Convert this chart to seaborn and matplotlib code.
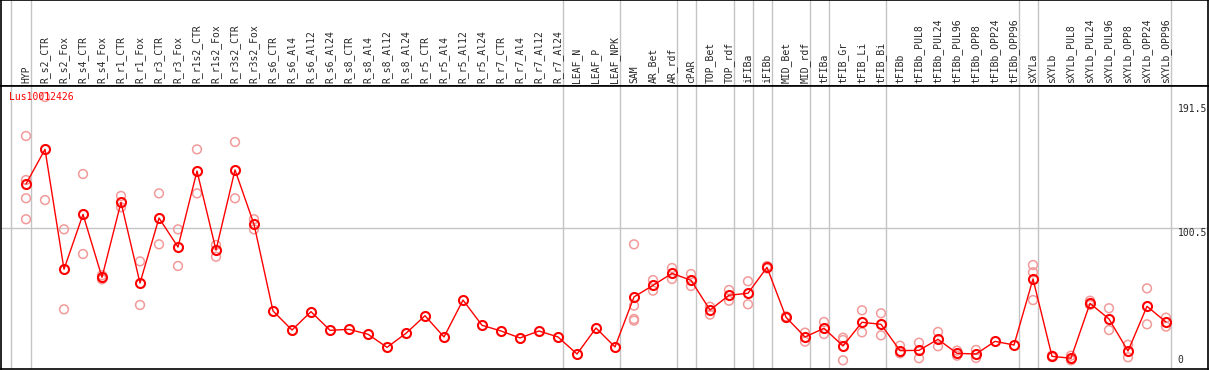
import matplotlib
matplotlib.use('Agg')
import matplotlib.pyplot as plt
import pandas as pd
import seaborn as sns

gene = 'Lus10012426'

samples = ['HYP', 'R_s2_CTR', 'R_s2_Fox', 'R_s4_CTR', 'R_s4_Fox', 'R_r1_CTR', 'R_r1_Fox',
           'R_r3_CTR', 'R_r3_Fox', 'R_r1s2_CTR', 'R_r1s2_Fox', 'R_r3s2_CTR', 'R_r3s2_Fox',
           'R_s6_CTR', 'R_s6_Al4', 'R_s6_Al12', 'R_s6_Al24', 'R_s8_CTR', 'R_s8_Al4',
           'R_s8_Al12', 'R_s8_Al24', 'R_r5_CTR', 'R_r5_Al4', 'R_r5_Al12', 'R_r5_Al24',
           'R_r7_CTR', 'R_r7_Al4', 'R_r7_Al12', 'R_r7_Al24', 'LEAF_N', 'LEAF_P', 'LEAF_NPK',
           'SAM', 'AR_Bet', 'AR_rdf', 'cPAR', 'TOP_Bet', 'TOP_rdf', 'iFIBa', 'iFIBb',
           'MID_Bet', 'MID_rdf', 'tFIBa', 'tFIB_Gr', 'tFIB_Li', 'tFIB_Bi', 'tFIBb',
           'tFIBb_PUL8', 'tFIBb_PUL24', 'tFIBb_PUL96', 'tFIBb_OPP8', 'tFIBb_OPP24',
           'tFIBb_OPP96', 'sXYLa', 'sXYLb', 'sXYLb_PUL8', 'sXYLb_PUL24', 'sXYLb_PUL96',
           'sXYLb_OPP8', 'sXYLb_OPP24', 'sXYLb_OPP96']

means = [133.0, 158.4, 70.4, 110.7, 64.5, 119.5, 60.3, 108.0, 86.7, 142.5, 84.5, 143.3,
         103.4, 39.8, 25.8, 39.3, 25.6, 26.3, 22.7, 13.1, 23.4, 36.3, 20.7, 47.8, 29.3,
         25.1, 20.0, 25.1, 20.7, 8.2, 27.3, 13.4, 50.1, 58.6, 67.4, 62.3, 40.5, 51.3,
         52.8, 71.8, 35.2, 20.7, 27.1, 14.1, 31.5, 30.0, 10.7, 10.9, 19.0, 8.7, 8.2,
         17.5, 14.8, 63.3, 6.5, 5.1, 45.4, 33.9, 10.4, 43.2, 31.7]

replicates = [
    [168.2, 135.9, 122.5, 107.1], [196.8, 121.2], [99.7, 41.0], [140.3, 81.6],
    [63.0, 66.0], [124.2, 115.9], [76.2, 44.2], [126.1, 88.7], [99.7, 72.8],
    [158.4, 126.1], [88.2, 79.6], [163.8, 122.5], [107.1, 99.7],
    [], [], [], [], [], [], [], [], [], [], [], [], [], [], [], [], [], [], [],
    [88.7, 43.7, 33.9, 32.7], [62.5, 54.7], [71.3, 63.3], [66.9, 58.1],
    [42.9, 37.1], [55.2, 47.3], [61.6, 44.7], [72.8, 71.0], [35.8, 34.8],
    [23.9, 17.3], [31.7, 22.9], [20.2, 18.5, 3.6], [40.3, 24.1], [38.1, 21.9],
    [14.3, 8.7], [16.5, 5.1], [24.4, 13.9], [10.7, 7.0], [11.2, 5.3], [], [],
    [73.5, 68.2, 47.8], [6.0, 7.0], [7.0, 3.6], [47.3, 44.2], [41.8, 25.8],
    [15.0, 5.8], [56.4, 30.0], [34.9, 28.3],
]

# a grey separator is drawn after each of these samples
group_ends = ['HYP', 'R_r7_Al24', 'LEAF_NPK', 'AR_rdf', 'cPAR', 'TOP_rdf', 'iFIBa',
              'iFIBb', 'MID_rdf', 'tFIBa', 'tFIB_Bi', 'tFIBb_OPP96', 'sXYLa', 'sXYLb_OPP96']

y_ticks = [191.5, 100.5, 0]
y_tick_labels = ['191.5', '100.5', '0']

sns.set_style('white')
plt.rcParams['font.family'] = ['DejaVu Sans Mono', 'DejaVu Sans']

W, H = 1209, 370
fig = plt.figure(figsize=(W / 100, H / 100), dpi=100)
hdr_px = 85.7
hax = fig.add_axes([1 / W, 1 - hdr_px / H, 1207 / W, hdr_px / H])
ax = fig.add_axes([1 / W, 1 / H, 1207 / W, (369 - hdr_px) / H], sharex=hax)

xs = list(range(len(samples)))
mean_df = pd.DataFrame({'x': xs, 'value': means})
rep_df = pd.DataFrame([(i, v) for i, reps in enumerate(replicates) for v in reps],
                      columns=['x', 'value'])

ax.axhline(100.5, color='#c4c4c4', lw=1, zorder=0)
seps = [-0.8] + [samples.index(s) + 0.25 for s in group_ends]
for a in (hax, ax):
    for sx in seps:
        a.axvline(sx, color='#c4c4c4', lw=1, zorder=0)

sns.scatterplot(data=rep_df, x='x', y='value', ax=ax, s=40, marker='o',
                facecolor='none', edgecolor='#f29a9a', linewidth=1.1, zorder=2,
                clip_on=False)
sns.lineplot(data=mean_df, x='x', y='value', ax=ax, color='red', lw=1, marker='o',
             ms=6.5, mfc='none', mec='red', mew=1.5, zorder=3)

ax.set_xlim((1 - 26) / 19, (1208 - 26) / 19)
ax.set_ylim(-2.79, 205.1)
ax.set_xlabel('')
ax.set_ylabel('')
ax.set_xticks([])
ax.set_yticks([])
hax.set_ylim(0, 1)
hax.set_yticks([])
hax.tick_params(bottom=False, labelbottom=False)

for a in (hax, ax):
    for sp in a.spines.values():
        sp.set_color('black')
        sp.set_linewidth(1.2)

for i, name in enumerate(samples):
    hax.text(i, 0.035, name, rotation=90, ha='center', va='bottom', fontsize=7)

ax.text(-0.88, 197.0, gene, color='red', fontsize=7, ha='left', va='center')

lx = (1177.7 - 26) / 19
for t, lab in zip(y_ticks, y_tick_labels):
    ax.text(lx, t, lab, fontsize=7, ha='left', va='bottom' if t == 0 else 'top',
            clip_on=True)

fig.savefig('out.png', dpi=100)
